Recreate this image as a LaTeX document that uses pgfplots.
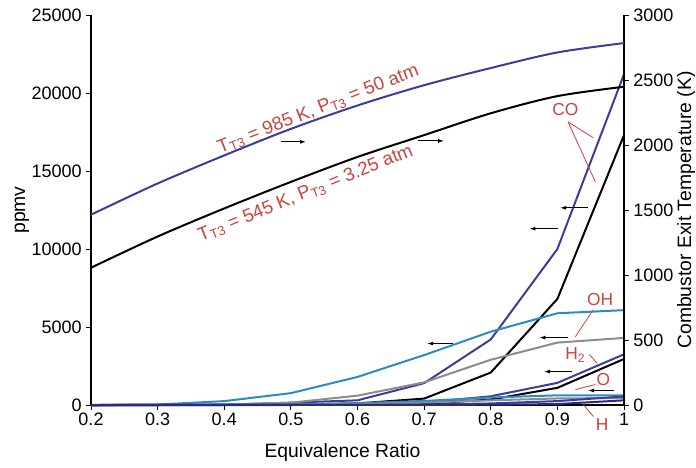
\documentclass[border=0pt]{standalone}
\usepackage{fontspec}
\setmainfont{Liberation Sans}
\usepackage{pgfplots}
\pgfplotsset{compat=1.18}
\usetikzlibrary{arrows.meta}
\definecolor{dblue}{HTML}{3D3D99}
\definecolor{nblue}{HTML}{2A2A80}
\definecolor{lblue}{HTML}{2B8CC4}
\definecolor{mgray}{HTML}{8C8C8C}
\definecolor{lred}{HTML}{C8443E}
\newcommand{\tfs}{\fontsize{13.5}{15}\selectfont}
\newcommand{\lfs}{\fontsize{14.5}{17}\selectfont}
\newcommand{\afs}{\fontsize{14}{16}\selectfont}
\newcommand{\sfs}{\fontsize{13}{15}\selectfont}
\begin{document}
\begin{tikzpicture}
\pgfplotsset{
  common/.style={
    scale only axis, width=399.75pt, height=292.5pt,
    xmin=0.2, xmax=1,
    scaled x ticks=false, scaled y ticks=false,
    tick align=outside, major tick length=3.5pt,
    tick style={black, line width=0.6pt},
    axis line style={line width=0.8pt, black},
    ticklabel style={font=\tfs},
    every axis plot/.append style={line width=1.5pt},
    clip=false,
  }
}
\begin{axis}[common, name=main,
  ymin=0, ymax=25000,
  axis x line*=bottom, axis y line*=left,
  xtick={0.2,0.3,0.4,0.5,0.6,0.7,0.8,0.9,1},
  xticklabels={0.2,0.3,0.4,0.5,0.6,0.7,0.8,0.9,1},
  ytick={0,5000,10000,15000,20000,25000},
  yticklabels={0,5000,10000,15000,20000,25000},
  xticklabel style={yshift=1pt},
]
% CO
\addplot[dblue] coordinates {(0.2,0)(0.3,0)(0.4,20)(0.5,150)(0.6,300)(0.7,1400)(0.8,4200)(0.9,10000)(1.0,21200)};
\addplot[black] coordinates {(0.2,0)(0.3,0)(0.4,0)(0.5,20)(0.6,100)(0.7,410)(0.8,2080)(0.9,6800)(1.0,17300)};
% OH
\addplot[lblue] coordinates {(0.2,0)(0.3,30)(0.4,250)(0.5,760)(0.6,1800)(0.7,3200)(0.8,4700)(0.9,5880)(1.0,6080)};
\addplot[mgray] coordinates {(0.2,0)(0.3,0)(0.4,30)(0.5,150)(0.6,600)(0.7,1450)(0.8,2900)(0.9,4000)(1.0,4300)};
% H2
\addplot[dblue] coordinates {(0.2,0)(0.5,0)(0.6,20)(0.7,150)(0.8,560)(0.9,1420)(1.0,3250)};
\addplot[black] coordinates {(0.2,0)(0.6,10)(0.7,80)(0.8,350)(0.9,1100)(1.0,2950)};
% O, H
\addplot[lblue] coordinates {(0.2,0)(0.3,0)(0.4,10)(0.5,40)(0.6,120)(0.7,260)(0.8,480)(0.9,620)(1.0,620)};
\addplot[mgray] coordinates {(0.2,0)(0.5,10)(0.6,50)(0.7,150)(0.8,300)(0.9,420)(1.0,450)};
\addplot[dblue] coordinates {(0.2,0)(0.6,5)(0.7,30)(0.8,100)(0.9,250)(1.0,550)};
\addplot[nblue] coordinates {(0.2,0)(0.7,5)(0.8,20)(0.9,60)(1.0,300)};

% arrows
\tikzset{arr/.style={black, line width=0.8pt, -{Latex[length=4.5pt,width=3pt]}}}
\draw[arr] (axis cs:0.4853,16870) -- (axis cs:0.5228,16870);
\draw[arr] (axis cs:0.691,16930) -- (axis cs:0.730,16930);
\draw[arr] (axis cs:0.946,12640) -- (axis cs:0.904,12640);
\draw[arr] (axis cs:0.901,11300) -- (axis cs:0.858,11300);
\draw[arr] (axis cs:0.7435,3940) -- (axis cs:0.7045,3940);
\draw[arr] (axis cs:0.916,4320) -- (axis cs:0.873,4320);
\draw[arr] (axis cs:0.922,2145) -- (axis cs:0.880,2145);
\draw[arr] (axis cs:0.985,930) -- (axis cs:0.946,930);

% labels
\node[lred, rotate=21.5, font=\afs] at (axis cs:0.541,18950) {T\textsubscript{T3} = 985 K, P\textsubscript{T3} = 50 atm};
\node[lred, rotate=22, font=\afs] at (axis cs:0.522,13550) {T\textsubscript{T3} = 545 K, P\textsubscript{T3} = 3.25 atm};
\node[lred, font=\sfs] at (axis cs:0.912,18920) {CO};
\node[lred, font=\sfs] at (axis cs:0.964,6740) {OH};
\node[lred, font=\sfs] at (axis cs:0.927,3230) {H\textsubscript{2}};
\node[lred, font=\sfs] at (axis cs:0.969,1630) {O};
\node[lred, font=\sfs] at (axis cs:0.967,-1250) {H};
\tikzset{lead/.style={lred, line width=0.6pt}}
\draw[lead] (axis cs:0.916,18150) -- (axis cs:0.954,17120);
\draw[lead] (axis cs:0.916,18150) -- (axis cs:0.957,14300);
\draw[lead] (axis cs:0.954,6110) -- (axis cs:0.927,4380);
\draw[lead] (axis cs:0.948,3230) -- (axis cs:0.960,2660);
\draw[lead] (axis cs:0.957,1310) -- (axis cs:0.927,990);
\draw[lead] (axis cs:0.954,-740) -- (axis cs:0.939,30);
\end{axis}

\begin{axis}[common, at={(main.south west)}, anchor=south west,
  ymin=0, ymax=3000,
  axis y line*=right, axis x line=none,
  ytick={0,500,1000,1500,2000,2500,3000},
  yticklabels={0,500,1000,1500,2000,2500,3000},
]
\addplot[dblue, smooth] coordinates {(0.2,1464)(0.3,1704)(0.4,1920)(0.5,2124)(0.6,2304)(0.7,2460)(0.8,2592)(0.9,2712)(1.0,2784)};
\addplot[black, smooth] coordinates {(0.2,1056)(0.3,1296)(0.4,1512)(0.5,1716)(0.6,1908)(0.7,2076)(0.8,2244)(0.9,2376)(1.0,2448)};
\end{axis}

\node[rotate=90, font=\lfs] at ([xshift=-51.75pt]main.west) {ppmv};
\node[rotate=90, font=\lfs] at ([xshift=46.5pt]main.east) {Combustor Exit Temperature (K)};
\node[font=\lfs] at ([xshift=-11.25pt, yshift=-35.25pt]main.south) {Equivalence Ratio};

\pgfresetboundingbox
\path[use as bounding box] ([xshift=-68.25pt, yshift=-46.5pt]main.south west) rectangle ([xshift=54pt, yshift=11.25pt]main.north east);
\end{tikzpicture}
\end{document}
